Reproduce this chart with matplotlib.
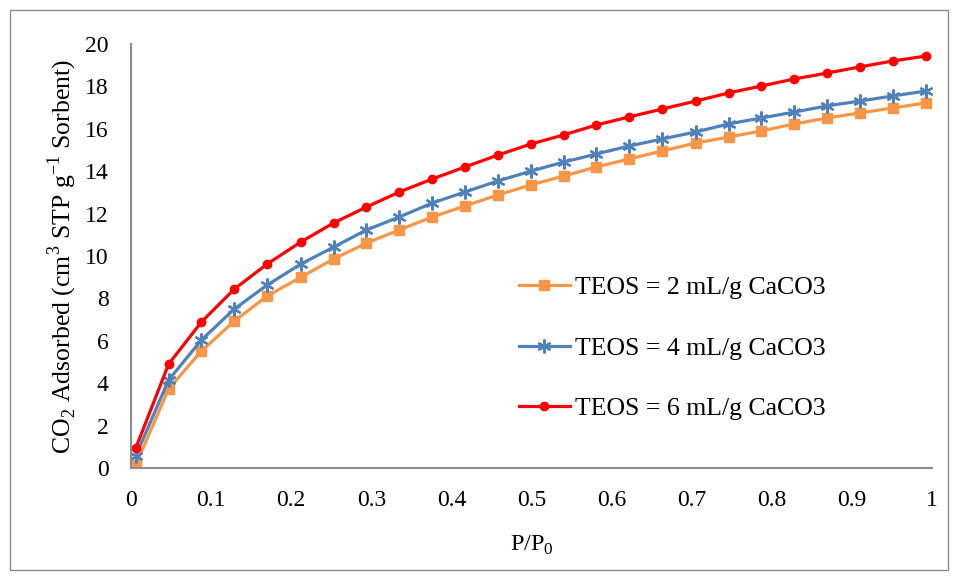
import numpy as np
import matplotlib
matplotlib.use("Agg")
import matplotlib.pyplot as plt
from matplotlib.patches import Rectangle

plt.rcParams['font.family'] = ['Liberation Serif', 'DejaVu Serif']
plt.rcParams['mathtext.fontset'] = 'custom'
plt.rcParams['mathtext.rm'] = 'Liberation Serif'

# relative pressure P/P0
p_rel = [0.006, 0.047, 0.088, 0.129, 0.170, 0.212, 0.253, 0.294, 0.335,
         0.376, 0.417, 0.458, 0.499, 0.540, 0.581, 0.622, 0.663, 0.705,
         0.746, 0.787, 0.828, 0.869, 0.910, 0.951, 0.992]

# CO2 uptake, cm3 STP per g sorbent
teos_2 = [0.14, 3.73, 5.52, 6.93, 8.11, 9.00, 9.86, 10.61, 11.23, 11.84,
          12.36, 12.88, 13.35, 13.77, 14.20, 14.58, 14.95, 15.33, 15.61,
          15.90, 16.23, 16.51, 16.75, 16.98, 17.22]
teos_4 = [0.57, 4.15, 6.04, 7.50, 8.63, 9.62, 10.42, 11.23, 11.84, 12.50,
          13.02, 13.54, 14.00, 14.43, 14.81, 15.19, 15.52, 15.85, 16.23,
          16.51, 16.79, 17.08, 17.31, 17.55, 17.78]
teos_6 = [0.94, 4.90, 6.89, 8.44, 9.62, 10.66, 11.56, 12.31, 13.02, 13.63,
          14.20, 14.76, 15.28, 15.71, 16.18, 16.56, 16.93, 17.31, 17.69,
          18.02, 18.35, 18.63, 18.92, 19.20, 19.43]

labels = ['TEOS = 2 mL/g CaCO3', 'TEOS = 4 mL/g CaCO3', 'TEOS = 6 mL/g CaCO3']
x_ticks = [0, 0.1, 0.2, 0.3, 0.4, 0.5, 0.6, 0.7, 0.8, 0.9, 1]
y_ticks = [0, 2, 4, 6, 8, 10, 12, 14, 16, 18, 20]

fs = 17

fig = plt.figure(figsize=(9.58, 5.79), dpi=100)
fig.patches.append(Rectangle((0.0105, 0.0155), 0.979, 0.967, transform=fig.transFigure,
                             fill=False, edgecolor='#8c8c8c', linewidth=1.0))
ax = fig.add_axes([0.1367, 0.1917, 0.8362, 0.7323])

ax.plot(p_rel, teos_2, color='#F79646', lw=2.3, marker='s', ms=6.5, label=labels[0])
ax.plot(p_rel, teos_4, color='#4F81BD', lw=2.3, marker=(6, 2, 0), ms=10, mew=1.6,
        label=labels[1])
ax.plot(p_rel, teos_6, color='#FF0000', lw=2.3, marker='o', ms=6, label=labels[2])

ax.set_xlim(0, 1)
ax.set_ylim(0, 20)
ax.set_xticks(x_ticks)
ax.set_xticklabels([f'{v:g}' for v in x_ticks])
ax.set_yticks(y_ticks)
for side in ['top', 'right']:
    ax.spines[side].set_visible(False)
for side in ['left', 'bottom']:
    ax.spines[side].set_color('#8c8c8c')
    ax.spines[side].set_linewidth(1.5)
ax.tick_params(length=0, labelsize=fs)
ax.tick_params(axis='x', pad=16)
ax.tick_params(axis='y', pad=16)

ax.set_xlabel('P/P$_0$', fontsize=fs + 0.5, labelpad=16)
ax.set_ylabel('CO$_2$ Adsorbed (cm$^3$ STP g$^{-1}$ Sorbent)', fontsize=18.5, labelpad=4.5)

ax.legend(loc='center left', bbox_to_anchor=(0.455, 0.283), frameon=False,
          fontsize=18.5, handlelength=2.0, labelspacing=1.45, handletextpad=0.2)

fig.savefig('out.png', dpi=100)
